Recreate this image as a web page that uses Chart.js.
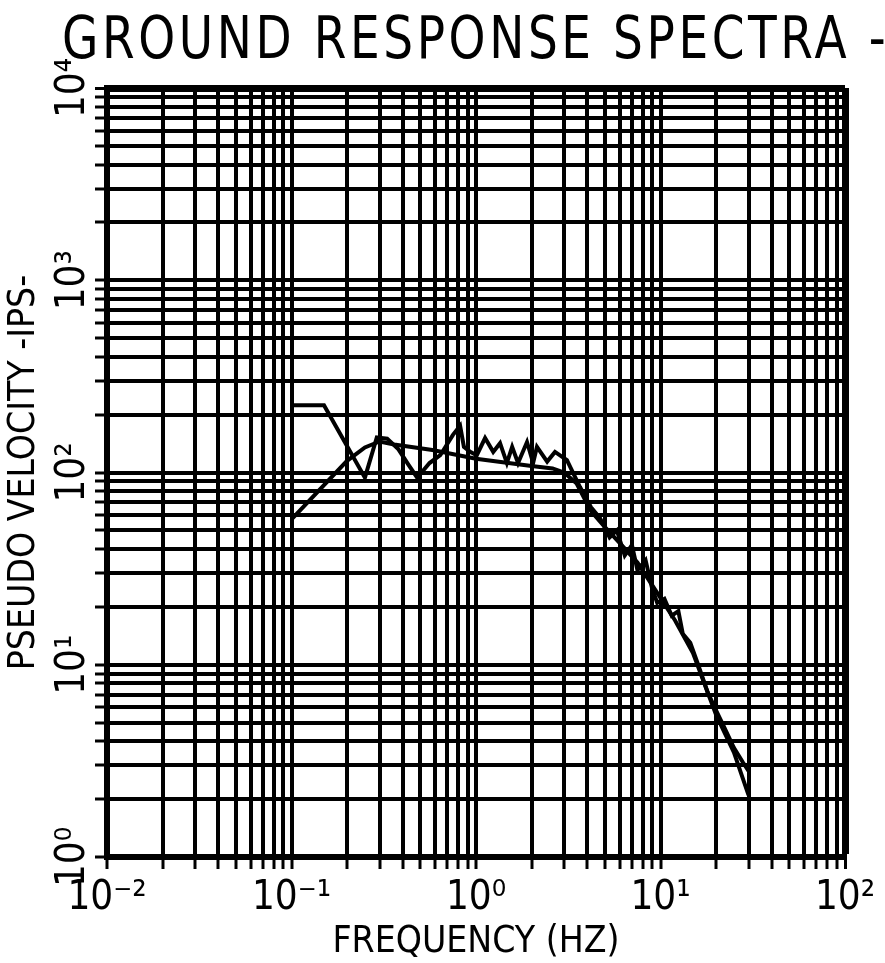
<!DOCTYPE html>
<html>
<head>
<meta charset="utf-8">
<title>Ground Response Spectra</title>
<script src="https://cdn.jsdelivr.net/npm/chart.js@4.4.0/dist/chart.umd.min.js"></script>
<style>
  body { margin: 0; background: #fff; }
  canvas { display: block; }
</style>
</head>
<body>
<canvas id="spectraChart" width="885" height="963"></canvas>
<script>
const FONT = '"Liberation Sans Narrow", "DejaVu Sans Condensed", sans-serif';

const chartTitle = "GROUND RESPONSE SPECTRA -";
const xTitle = "FREQUENCY (HZ)";
const yTitle = "PSEUDO VELOCITY -IPS-";

// decade ticks and their labels
const xMajor = [0.01, 0.1, 1, 10, 100];
const xMajorLabels = ["10⁻²", "10⁻¹", "10⁰", "10¹", "10²"];
const yMajor = [1, 10, 100, 1000, 10000];
const yMajorLabels = ["10⁰", "10¹", "10²", "10³", "10⁴"];

// smooth spectrum
const freqSmooth = [0.1, 0.2, 0.25, 0.3, 0.36, 0.58, 1.0, 1.5, 2.0, 2.6, 3.0, 3.5, 4.2, 5.0, 6.0, 7.5, 9.5, 12, 15, 20, 25, 30];
const velSmooth  = [57, 115, 135, 145, 140, 131, 118, 112, 108, 105, 100, 88, 63, 52, 43, 34, 24, 17, 11.5, 5.5, 3.5, 2.1];

// jagged spectrum
const freqRough = [0.1, 0.15, 0.19, 0.25, 0.29, 0.33, 0.38, 0.43, 0.48, 0.56, 0.64, 0.75, 0.82, 0.86, 0.93, 1.01,
  1.12, 1.24, 1.35, 1.47, 1.57, 1.69, 1.89, 2.04, 2.14, 2.43, 2.68, 3.11, 3.66, 4.2, 4.7, 5.3, 5.8, 6.4, 7.0, 7.5,
  8.3, 9.0, 9.6, 10.5, 11.5, 12.5, 13.2, 14.5, 16, 18, 20, 22, 25, 28, 30];
const velRough  = [224, 224, 150, 94, 152, 150, 132, 110, 94, 112, 123, 157, 175, 136, 128, 123,
  151, 128, 142, 112, 136, 112, 144, 112, 136, 114, 128, 116, 84, 66, 58, 46, 50, 37, 42, 31,
  35, 25, 21, 22, 18, 19, 14.5, 13, 10, 7.2, 5.8, 4.8, 3.7, 3.1, 2.8];

// 1..9 grid lines inside every decade
function decadeGrid(majors) {
  const out = [];
  for (let i = 0; i < majors.length - 1; i++) {
    for (let k = 1; k <= 9; k++) out.push(k === 1 ? majors[i] : k * majors[i]);
  }
  out.push(majors[majors.length - 1]);
  return out;
}
const xGrid = decadeGrid(xMajor);
const yGrid = decadeGrid(yMajor);

const toPoints = (xs, ys) => xs.map((x, i) => ({ x: x, y: ys[i] }));

// title starts left of the plot and runs off the right edge
const titlePlugin = {
  id: "plotTitle",
  afterDraw(chart) {
    const ctx = chart.ctx;
    ctx.save();
    ctx.font = "58px " + FONT;
    ctx.letterSpacing = "4px";
    ctx.fillStyle = "#000";
    ctx.textBaseline = "alphabetic";
    ctx.translate(62, 58);
    ctx.scale(0.9, 1);
    ctx.fillText(chartTitle, 0, 0);
    ctx.restore();
  }
};

const gridWidth = (max) => (c) => (c.tick && c.tick.value === max ? 7 : 4);

new Chart(document.getElementById("spectraChart"), {
  type: "line",
  data: {
    datasets: [
      { data: toPoints(freqSmooth, velSmooth), borderColor: "#000", borderWidth: 4, pointRadius: 0, tension: 0 },
      { data: toPoints(freqRough, velRough), borderColor: "#000", borderWidth: 4, pointRadius: 0, tension: 0 }
    ]
  },
  options: {
    responsive: false,
    animation: false,
    layout: { padding: { top: 88, right: 40, left: 0, bottom: 0 } },
    plugins: { legend: { display: false }, tooltip: { enabled: false } },
    scales: {
      x: {
        type: "logarithmic",
        min: 0.01,
        max: 100,
        afterBuildTicks: (s) => { s.ticks = xGrid.map(v => ({ value: v })); },
        afterFit: (s) => { s.height = 106; },
        grid: { color: "#000", lineWidth: gridWidth(100), tickLength: 12, tickWidth: 3 },
        border: { display: true, color: "#000", width: 6 },
        ticks: {
          autoSkip: false,
          maxRotation: 0,
          padding: 6,
          color: "#000",
          font: { family: FONT, size: 40 },
          callback: (v) => { const i = xMajor.indexOf(v); return i >= 0 ? xMajorLabels[i] : ""; }
        },
        title: { display: true, text: xTitle, color: "#000", font: { family: FONT, size: 37 }, padding: { top: 0, bottom: -2 } }
      },
      y: {
        type: "logarithmic",
        min: 1,
        max: 10000,
        afterBuildTicks: (s) => { s.ticks = yGrid.map(v => ({ value: v })); },
        afterFit: (s) => { s.width = 107; },
        grid: { color: "#000", lineWidth: gridWidth(10000), tickLength: 12, tickWidth: 3 },
        border: { display: true, color: "#000", width: 6 },
        ticks: {
          autoSkip: false,
          minRotation: 90,
          maxRotation: 90,
          crossAlign: "center",
          padding: -9,
          color: "#000",
          font: { family: FONT, size: 40 },
          callback: (v) => { const i = yMajor.indexOf(v); return i >= 0 ? yMajorLabels[i] : ""; }
        },
        title: { display: true, text: yTitle, color: "#000", font: { family: FONT, size: 37 }, padding: { top: 2, bottom: 0 } }
      }
    }
  },
  plugins: [titlePlugin]
});
</script>
</body>
</html>
